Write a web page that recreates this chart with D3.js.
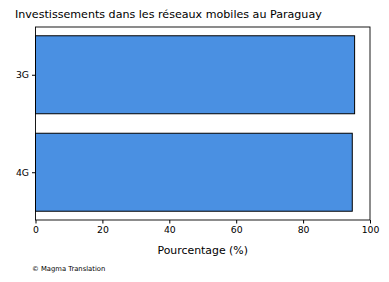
<!DOCTYPE html>
<html>
<head>
<meta charset="utf-8">
<script src="https://cdn.jsdelivr.net/npm/d3@7"></script>
<style>
  body { margin: 0; background: #fff; }
  text { font-family: "DejaVu Sans", sans-serif; }
</style>
</head>
<body>
<div id="chart"></div>
<script>
// data
var categories = ["4G", "3G"];
var values = [94.7, 95.4];
var xTicks = [0, 20, 40, 60, 80, 100];

var w = 389;
var h = 282;
var margin = {left: 35.5, right: 19, top: 27, bottom: 62};

var svg = d3.select("#chart")
            .append("svg")
            .attr("width", w)
            .attr("height", h);

var x = d3.scaleLinear()
          .domain([0, 100])
          .range([margin.left, w - margin.right]);

// matplotlib-like y: index positions with 0.8 bar height and 5% padding
var y = d3.scaleLinear()
          .domain([-0.49, categories.length - 1 + 0.49])
          .range([h - margin.bottom, margin.top]);

var barH = 0.8;

svg.selectAll("rect.bar")
    .data(values)
    .enter()
    .append("rect")
    .attr("class", "bar")
    .attr("x", x(0))
    .attr("y", function(d, i) { return y(i + barH / 2); })
    .attr("width", function(d) { return x(d) - x(0); })
    .attr("height", function(d, i) { return y(i - barH / 2) - y(i + barH / 2); })
    .attr("fill", "#4a90e2")
    .attr("stroke", "black")
    .attr("stroke-width", 1);

// frame
svg.append("rect")
    .attr("x", margin.left)
    .attr("y", margin.top)
    .attr("width", w - margin.right - margin.left)
    .attr("height", h - margin.bottom - margin.top)
    .attr("fill", "none")
    .attr("stroke", "black")
    .attr("stroke-width", 0.9);

// x axis
var xAxis = d3.axisBottom(x)
              .tickValues(xTicks)
              .tickSize(3.5)
              .tickPadding(3);

var gx = svg.append("g")
    .attr("transform", "translate(0," + (h - margin.bottom) + ")")
    .call(xAxis);
gx.select(".domain").remove();
gx.selectAll("text").attr("font-size", 9.3).attr("fill", "#000");

// y axis
var yAxis = d3.axisLeft(y)
              .tickValues(d3.range(categories.length))
              .tickFormat(function(d) { return categories[d]; })
              .tickSize(3.5)
              .tickPadding(3);

var gy = svg.append("g")
    .attr("transform", "translate(" + margin.left + ",0)")
    .call(yAxis);
gy.select(".domain").remove();
gy.selectAll("text").attr("font-size", 9.3).attr("fill", "#000");

// title
svg.append("text")
    .attr("x", 15)
    .attr("y", 18)
    .attr("font-size", 11.1)
    .text("Investissements dans les réseaux mobiles au Paraguay");

// x label
svg.append("text")
    .attr("x", (x(0) + x(100)) / 2)
    .attr("y", 254)
    .attr("text-anchor", "middle")
    .attr("font-size", 10.9)
    .text("Pourcentage (%)");

// credit
svg.append("text")
    .attr("x", 32)
    .attr("y", 271)
    .attr("font-size", 6.8)
    .text("© Magma Translation");
</script>
</body>
</html>
